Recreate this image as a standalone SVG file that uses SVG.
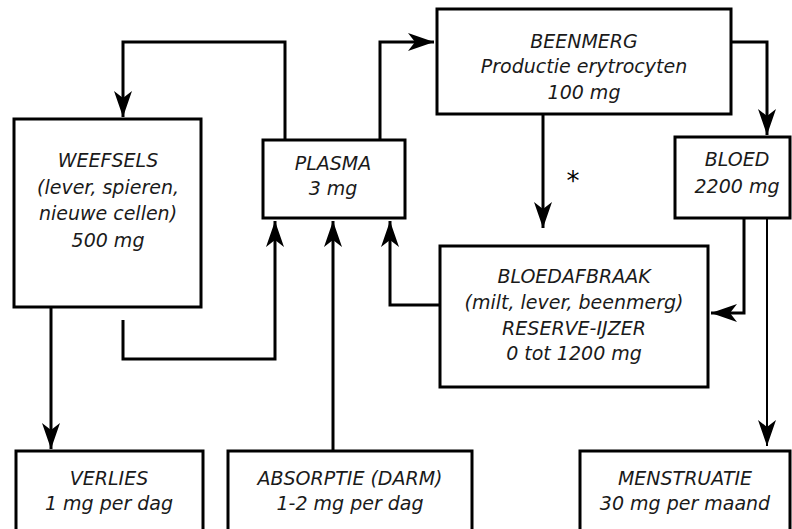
<svg xmlns="http://www.w3.org/2000/svg" width="792" height="529" viewBox="0 0 792 529">
<style>
.box{fill:#fff;stroke:#000;stroke-width:3}
.ln{fill:none;stroke:#000;stroke-width:3}
.thin{fill:none;stroke:#000;stroke-width:2}
text{font-family:"DejaVu Sans",sans-serif;font-style:italic;font-size:19px;fill:#1a1a1a;text-anchor:middle}
</style>
<defs>
<marker id="ah" markerUnits="userSpaceOnUse" markerWidth="28" markerHeight="18" refX="26" refY="9" orient="auto">
<path d="M0,0 L26,9 L0,18 L7,9 z" fill="#000"/>
</marker>
</defs>
<rect width="792" height="529" fill="#fff"/>
<g id="connectors">
<polyline class="ln" points="285,139 285,42 123,42 123,117" marker-end="url(#ah)"/>
<polyline class="ln" points="380,139 380,42 434,42" marker-end="url(#ah)"/>
<polyline class="ln" points="731,42 767,42 767,135" marker-end="url(#ah)"/>
<line class="ln" x1="543" y1="114" x2="543" y2="228" marker-end="url(#ah)"/>
<polyline class="ln" points="744,218 744,313 711,313" marker-end="url(#ah)"/>
<line class="thin" x1="767" y1="204" x2="767" y2="446" marker-end="url(#ah)"/>
<polyline class="ln" points="440,305 390,305 390,221" marker-end="url(#ah)"/>
<polyline class="ln" points="123,320 123,359 275,359 275,221" marker-end="url(#ah)"/>
<line class="ln" x1="333" y1="450" x2="333" y2="221" marker-end="url(#ah)"/>
<line class="ln" x1="51" y1="308" x2="51" y2="449" marker-end="url(#ah)"/>
<text x="573" y="190" style="font-style:normal;font-size:26px;fill:#000">*</text>
</g>
<g id="weefsels">
<rect class="box" x="14" y="119" width="187" height="188"/>
<text x="108" y="167">WEEFSELS</text>
<text x="108" y="194">(lever, spieren,</text>
<text x="108" y="220">nieuwe cellen)</text>
<text x="108" y="247">500 mg</text>
</g>
<g id="plasma">
<rect class="box" x="263" y="140" width="142" height="78"/>
<text x="333" y="170">PLASMA</text>
<text x="333" y="195">3 mg</text>
</g>
<g id="beenmerg">
<rect class="box" x="437" y="9" width="294" height="105"/>
<text x="584" y="48">BEENMERG</text>
<text x="584" y="73">Productie erytrocyten</text>
<text x="584" y="99">100 mg</text>
</g>
<g id="bloed">
<rect class="box" x="675" y="137" width="115" height="81"/>
<text x="737" y="166">BLOED</text>
<text x="737" y="193">2200 mg</text>
</g>
<g id="bloedafbraak">
<rect class="box" x="440" y="246" width="268" height="141"/>
<text x="574" y="283">BLOEDAFBRAAK</text>
<text x="574" y="309">(milt, lever, beenmerg)</text>
<text x="574" y="335">RESERVE-IJZER</text>
<text x="574" y="360">0 tot 1200 mg</text>
</g>
<g id="verlies">
<rect class="box" x="16" y="451" width="187" height="80"/>
<text x="109" y="485">VERLIES</text>
<text x="109" y="510">1 mg per dag</text>
</g>
<g id="absorptie">
<rect class="box" x="228" y="451" width="244" height="80"/>
<text x="350" y="485">ABSORPTIE (DARM)</text>
<text x="350" y="510">1-2 mg per dag</text>
</g>
<g id="menstruatie">
<rect class="box" x="580" y="451" width="210" height="80"/>
<text x="685" y="485">MENSTRUATIE</text>
<text x="685" y="510">30 mg per maand</text>
</g>
</svg>
